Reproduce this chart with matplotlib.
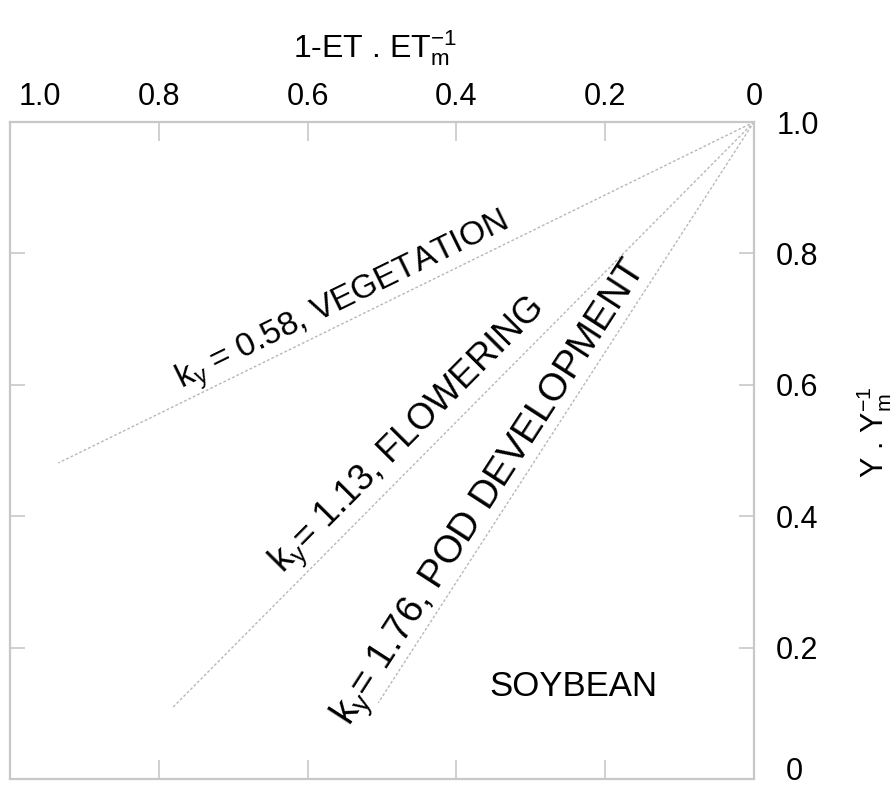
import numpy as np
import matplotlib
matplotlib.use('Agg')
from matplotlib import pyplot as plt
from matplotlib.transforms import ScaledTranslation

# fonts
plt.rcParams['font.family'] = ['Liberation Sans', 'DejaVu Sans']
plt.rcParams['mathtext.fontset'] = 'custom'
plt.rcParams['mathtext.rm'] = 'Liberation Sans'
plt.rcParams['mathtext.it'] = 'Liberation Sans'

# data
ky = [0.58, 1.13, 1.76]
stages = ['VEGETATION', 'FLOWERING', 'POD DEVELOPMENT']
ky_sep = [' = ', '= ', '= ']
x_start = [0.0, 0.0, 0.0]
y_start = [1.0, 1.0, 1.0]
x_end = [0.935, 0.782, 0.505]
y_end = [0.481, 0.108, 0.116]
# where each label begins (baseline, left)
label_x = [0.770, 0.634, 0.543]
label_y = [0.594, 0.313, 0.079]
label_size = [24, 26, 27.5]

x_ticks = [1.0, 0.8, 0.6, 0.4, 0.2, 0.0]
x_ticklabels = ['1.0', '0.8', '0.6', '0.4', '0.2', '0']
y_ticks = [0.0, 0.2, 0.4, 0.6, 0.8, 1.0]
y_ticklabels = ['0', '0.2', '0.4', '0.6', '0.8', '1.0']

W, H = 895, 789
fig = plt.figure(figsize=(W / 100, H / 100), dpi=100)
ax = fig.add_axes([10 / W, 10 / H, 744 / W, 657 / H])

grey = '#c8c8c8'
for s in ax.spines.values():
    s.set_color(grey)
    s.set_linewidth(1.6)

ax.set_xlim(1.0, 0.0)
ax.set_ylim(0.0, 1.0)
ax.set_xticks(x_ticks)
ax.set_xticklabels(x_ticklabels)
ax.set_yticks(y_ticks)
ax.set_yticklabels(y_ticklabels)
ax.tick_params(axis='x', top=True, bottom=True, labeltop=True, labelbottom=False,
               direction='in', length=14, width=1.2, color=grey, pad=7, labelsize=22)
ax.tick_params(axis='y', left=True, right=True, labelleft=False, labelright=True,
               direction='in', length=11, width=1.2, color=grey, pad=16, labelsize=22)

# nudge the corner labels like in the original
first = ax.xaxis.get_major_ticks()[0].label2
first.set_transform(first.get_transform() + ScaledTranslation(0.30, 0, fig.dpi_scale_trans))
zero = ax.yaxis.get_major_ticks()[0].label2
zero.set_transform(zero.get_transform() + ScaledTranslation(0.10, 0.10, fig.dpi_scale_trans))

# lines
for i in range(len(ky)):
    ax.plot([x_start[i], x_end[i]], [y_start[i], y_end[i]], color='#b8b8b8',
            lw=1.0, ls=(0, (2, 1.5)), clip_on=False)

# labels along the lines, angle taken from the drawn line
for i in range(len(ky)):
    p = ax.transData.transform([(x_end[i], y_end[i]), (x_start[i], y_start[i])])
    ang = np.degrees(np.arctan2(p[1, 1] - p[0, 1], p[1, 0] - p[0, 0]))
    txt = r'k$_\mathregular{y}$' + ky_sep[i] + '%.2f, ' % ky[i] + stages[i]
    ax.text(label_x[i], label_y[i], txt, rotation=ang, rotation_mode='anchor',
            ha='left', va='baseline', fontsize=label_size[i])

ax.text(0.243, 0.1415, 'SOYBEAN', ha='center', va='center', fontsize=25)

# axis titles
fig.text(293 / W, 1 - 57 / H, r'1-ET . ET$_\mathregular{m}^\mathregular{-1}$',
         ha='left', va='baseline', fontsize=23)
fig.text(884 / W, 1 - 478 / H, r'Y . Y$_\mathregular{m}^\mathregular{-1}$',
         rotation=90, rotation_mode='anchor', ha='left', va='baseline', fontsize=22)

fig.savefig('out.png', dpi=100)
